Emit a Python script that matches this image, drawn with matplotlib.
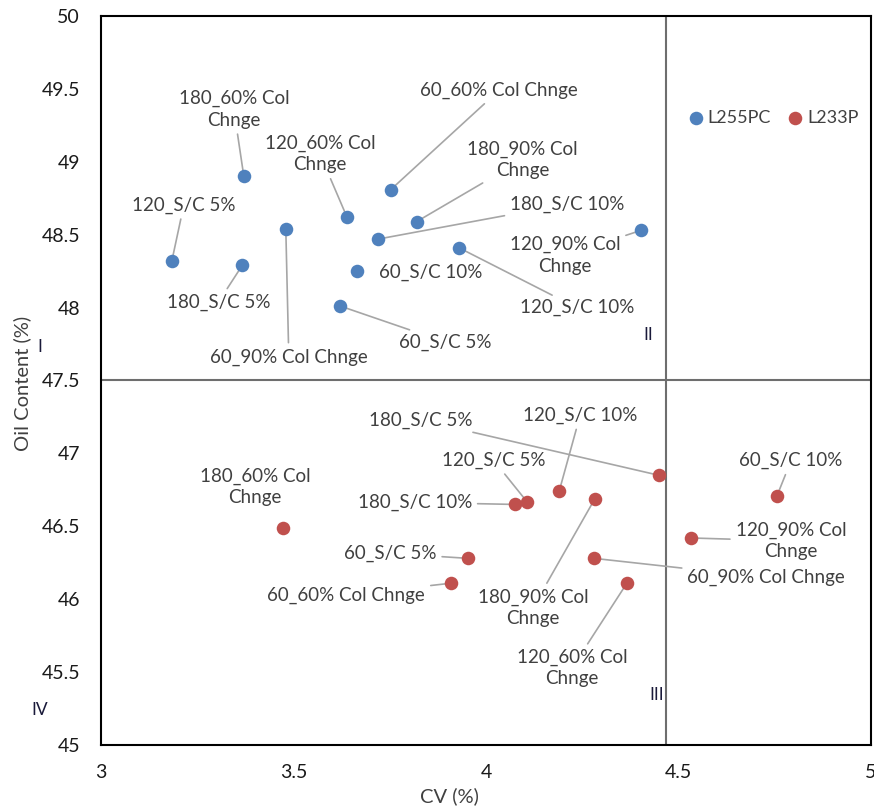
import matplotlib.pyplot as plt

plt.rcParams['font.family'] = ['Lato', 'DejaVu Sans']

# L255PC series
cv_l255 = [3.184, 3.371, 3.367, 3.480, 3.639, 3.753, 3.820, 3.720, 3.666, 3.622, 3.930, 4.403]
oil_l255 = [48.32, 48.90, 48.29, 48.54, 48.62, 48.81, 48.59, 48.47, 48.25, 48.01, 48.41, 48.53]
labels_l255 = ['120_S/C 5%', '180_60% Col\nChnge', '180_S/C 5%', '60_90% Col Chnge',
               '120_60% Col\nChnge', '60_60% Col Chnge', '180_90% Col\nChnge', '180_S/C 10%',
               '60_S/C 10%', '60_S/C 5%', '120_S/C 10%', '120_90% Col\nChnge']

# L233P series
cv_l233 = [3.473, 4.449, 4.190, 4.106, 4.075, 3.954, 3.910, 4.283, 4.366, 4.281, 4.532, 4.756]
oil_l233 = [46.49, 46.85, 46.74, 46.67, 46.65, 46.28, 46.11, 46.69, 46.11, 46.28, 46.42, 46.71]
labels_l233 = ['180_60% Col\nChnge', '180_S/C 5%', '120_S/C 10%', '120_S/C 5%', '180_S/C 10%',
               '60_S/C 5%', '60_60% Col Chnge', '180_90% Col\nChnge', '120_60% Col\nChnge',
               '60_90% Col Chnge', '120_90% Col\nChnge', '60_S/C 10%']

# quadrant dividers
cv_split = 4.467
oil_split = 47.5

# label placement (pixel offsets from the point) and whether a leader line is drawn
off_l255 = [(12, 56), (-10, 67), (-24, -37), (3, -128), (-27, 63), (108, 99), (106, 62),
            (189, 35), (73, -1), (105, -36), (118, -60), (-76, -25)]
lead_l255 = [1, 1, 1, 1, 1, 1, 1, 1, 0, 1, 1, 1]
off_l233 = [(-28, 41), (-238, 55), (21, 76), (-33, 41), (-100, 2), (-78, 5), (-105, -12),
            (-62, -109), (-55, -85), (172, -19), (100, -3), (14, 35)]
lead_l233 = [0, 1, 1, 1, 1, 1, 1, 1, 1, 1, 1, 1]

blue = '#4f81bd'
red = '#c0504d'
txt = '#404040'

fig = plt.figure(figsize=(8.74, 8.10), dpi=100)
ax = fig.add_axes([101 / 874, 1 - 745 / 810, 770 / 874, 729 / 810])

ax.axvline(cv_split, color='#6e6e6e', lw=1.5, zorder=1)
ax.axhline(oil_split, color='#6e6e6e', lw=1.5, zorder=1)

ax.scatter(cv_l255, oil_l255, s=95, color=blue, label='L255PC', zorder=3, linewidths=0)
ax.scatter(cv_l233, oil_l233, s=95, color=red, label='L233P', zorder=3, linewidths=0)


def add_labels(xs, ys, labels, offs, leads):
    for x, y, lab, off, lead in zip(xs, ys, labels, offs, leads):
        ap = None
        if lead:
            ap = dict(arrowstyle='-', color='#a6a6a6', lw=1.2, shrinkA=2, shrinkB=0)
        ax.annotate(lab, (x, y), xytext=off, textcoords='offset pixels',
                    ha='center', va='center', fontsize=13.5, color=txt,
                    linespacing=1.3, arrowprops=ap, zorder=2)


add_labels(cv_l255, oil_l255, labels_l255, off_l255, lead_l255)
add_labels(cv_l233, oil_l233, labels_l233, off_l233, lead_l233)

ax.set_xlim(3, 5)
ax.set_ylim(45, 50)
ax.set_xticks([3, 3.5, 4, 4.5, 5])
ax.set_xticklabels(['3', '3.5', '4', '4.5', '5'])
ax.set_yticks([45, 45.5, 46, 46.5, 47, 47.5, 48, 48.5, 49, 49.5, 50])
ax.set_yticklabels(['45', '45.5', '46', '46.5', '47', '47.5', '48', '48.5', '49', '49.5', '50'])
ax.tick_params(axis='both', length=0, labelsize=14, colors='#1a1a1a')
ax.tick_params(axis='y', pad=15)
ax.tick_params(axis='x', pad=14)
for sp in ax.spines.values():
    sp.set_color('#000000')
    sp.set_linewidth(1.5)

ax.set_xlabel('CV (%)', fontsize=14.5, color='#404040')
ax.set_ylabel('Oil Content (%)', fontsize=14.5, color='#404040')
ax.xaxis.set_label_coords((449 - 101) / 770, (745 - 787) / 729)
ax.yaxis.set_label_coords((31 - 101) / 770, (745 - 383) / 729)

# quadrant tags
fig.text(40 / 874, 1 - 347 / 810, 'I', fontsize=12.5, color='#1a1a3a', ha='center', va='center')
fig.text(648 / 874, 1 - 335 / 810, 'II', fontsize=12.5, color='#1a1a3a', ha='center', va='center')
fig.text(657 / 874, 1 - 695 / 810, 'III', fontsize=12.5, color='#1a1a3a', ha='center', va='center')
fig.text(40 / 874, 1 - 710 / 810, 'IV', fontsize=12.5, color='#1a1a3a', ha='center', va='center')

ax.legend(loc='center', bbox_to_anchor=((773 - 101) / 770, (745 - 118) / 729), ncol=2,
          frameon=False, handlelength=0.9, handletextpad=0.2, columnspacing=0.9,
          fontsize=13, labelcolor=txt, borderpad=0.2)

fig.savefig('out.png', dpi=100)
